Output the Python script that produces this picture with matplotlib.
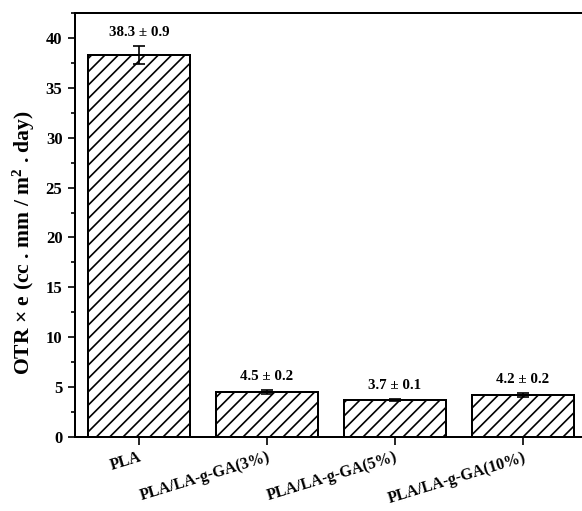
import matplotlib
matplotlib.use("Agg")
import matplotlib.pyplot as plt
from matplotlib.ticker import MultipleLocator

categories = ["PLA", "PLA/LA-g-GA(3%)", "PLA/LA-g-GA(5%)", "PLA/LA-g-GA(10%)"]
values = [38.3, 4.5, 3.7, 4.2]
errors = [0.9, 0.2, 0.1, 0.2]

plt.rcParams["font.family"] = ["Liberation Serif", "DejaVu Serif"]
plt.rcParams["font.weight"] = "bold"
plt.rcParams["mathtext.fontset"] = "custom"
plt.rcParams["mathtext.rm"] = "Liberation Serif:bold"
plt.rcParams["mathtext.it"] = "Liberation Serif:bold"
plt.rcParams["mathtext.bf"] = "Liberation Serif:bold"
plt.rcParams["hatch.linewidth"] = 1.0

DPI = 120
fig = plt.figure(figsize=(582 / DPI, 511 / DPI), dpi=DPI)
W, H = 582, 511
left, right, top, bottom = 75, 587, 13, 437
ax = fig.add_axes([left / W, 1 - bottom / H, (right - left) / W, (bottom - top) / H])

x = list(range(len(categories)))
ax.bar(x, values, width=0.8, color="white", edgecolor="black", linewidth=1.2,
       hatch="///", zorder=2)
ax.errorbar(x, values, yerr=errors, fmt="none", ecolor="black", elinewidth=1.0,
            capsize=3.5, capthick=1.0, zorder=3)

for xi, v, e in zip(x, values, errors):
    ax.annotate(f"{v:.1f} \u00b1 {e:.1f}", xy=(xi, v + e), xytext=(0, 4),
                textcoords="offset points", ha="center", va="bottom",
                fontsize=9, fontweight="bold")

ax.set_xlim(-0.5, len(categories) - 0.5)
ax.set_ylim(0, 42.5)
ax.yaxis.set_major_locator(MultipleLocator(5))
ax.yaxis.set_minor_locator(MultipleLocator(2.5))
ax.tick_params(axis="y", which="major", direction="out", length=4, width=1.0,
               labelsize=10)
ax.tick_params(axis="y", which="minor", direction="out", length=2.5, width=1.0)
ax.tick_params(axis="x", direction="out", length=4.5, width=1.0, labelsize=9.5,
               pad=3)

ax.set_xticks(x)
ax.set_xticklabels(categories, rotation=17, ha="right", rotation_mode="anchor",
                   fontweight="bold")
for lbl in ax.get_yticklabels():
    lbl.set_fontweight("bold")

ax.set_ylabel("OTR \u00d7 e (cc . mm / m$^{2}$ . day)", fontsize=13,
              fontweight="bold")
ax.yaxis.set_label_coords(-0.075, 0.4575)

for s in ax.spines.values():
    s.set_linewidth(1.2)

fig.savefig("out.png", dpi=DPI)
